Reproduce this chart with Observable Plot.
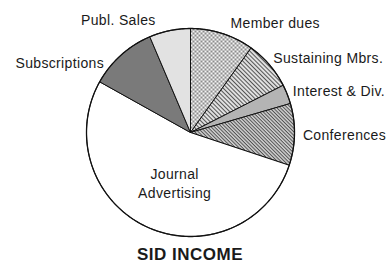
<!DOCTYPE html>
<html><head><meta charset="utf-8">
<script src="https://cdn.jsdelivr.net/npm/d3@7"></script>
<script src="https://cdn.jsdelivr.net/npm/@observablehq/plot@0.6"></script>
<style>
body{margin:0;background:#fff;}
#chart{width:390px;}
#title{width:380px;height:24px;line-height:24px;text-align:center;font:bold 17px "Liberation Sans",Arial,sans-serif;color:#1a1a1a;letter-spacing:0.5px;}
</style></head><body>
<svg width="0" height="0" style="position:absolute">
<defs>
<pattern id="checker" patternUnits="userSpaceOnUse" width="4" height="4">
 <rect width="4" height="4" fill="#f4f4f4"/>
 <rect width="2" height="2" fill="#8c8c8c"/>
 <rect x="2" y="2" width="2" height="2" fill="#8c8c8c"/>
</pattern>
<pattern id="hatchLight" patternUnits="userSpaceOnUse" width="3" height="3" patternTransform="rotate(45)">
 <rect width="3" height="3" fill="#e0e0e0"/>
 <line x1="0" y1="0.5" x2="3" y2="0.5" stroke="#555" stroke-width="1"/>
</pattern>
<pattern id="hatchDark" patternUnits="userSpaceOnUse" width="2.5" height="2.5" patternTransform="rotate(45)">
 <rect width="2.5" height="2.5" fill="#d2d2d2"/>
 <line x1="0" y1="0.5" x2="2.5" y2="0.5" stroke="#505050" stroke-width="1"/>
</pattern>
</defs>
</svg>
<div id="chart"></div>
<div id="title">SID INCOME</div>
<script>
// ---- data ----
const categories = ["Member dues", "Sustaining Mbrs.", "Interest & Div.", "Conferences", "Journal Advertising", "Subscriptions", "Publ. Sales"];
const shares = [9.9, 7.6, 3.0, 9.6, 53.0, 10.5, 6.4];
const labelTexts = ["Member dues", "Sustaining Mbrs.", "Interest & Div.", "Conferences", "Journal\nAdvertising", "Subscriptions", "Publ. Sales"];

// ---- styles / layout ----
const fills = ["url(#checker)", "url(#hatchLight)", "#b4b4b4", "url(#hatchDark)", "#ffffff", "#7a7a7a", "#e2e2e2"];
const labelRadius = [1.1, 1.1, 1.1, 1.1, 0.45, 1.1, 1.1];
const labelAnchor = ["start", "start", "start", "start", "middle", "end", "end"];
const labelNudge = [[5, -2], [-4, -1], [-4, 0], [-2, -1], [3, 7], [-10, 15], [-12, -1]];

const W = 390, H = 245, R = 104, cx = 190, cy = 132;

const arcs = d3.pie().sort(null).value(d => d)(shares);

function arcPoints(a0, a1) {
  const n = Math.max(2, Math.ceil((a1 - a0) / (Math.PI / 180)));
  const pts = [{x: 0, y: 0}];
  for (let i = 0; i <= n; i++) {
    const a = a0 + (a1 - a0) * i / n;
    pts.push({x: Math.sin(a), y: Math.cos(a)});
  }
  pts.push({x: 0, y: 0});
  return pts;
}

const sliceMarks = arcs.map((a, i) =>
  Plot.line(arcPoints(a.startAngle, a.endAngle), {x: "x", y: "y", fill: fills[i], stroke: "#111", strokeWidth: 1, strokeLinejoin: "round"})
);

const circle = d3.range(0, 361).map(d => ({x: Math.sin(d * Math.PI / 180), y: Math.cos(d * Math.PI / 180)}));

const labelMarks = arcs.map((a, i) => {
  const mid = (a.startAngle + a.endAngle) / 2;
  const r = labelRadius[i];
  return Plot.text([{x: r * Math.sin(mid), y: r * Math.cos(mid), t: labelTexts[i]}], {
    x: "x", y: "y", text: "t",
    textAnchor: labelAnchor[i], dx: labelNudge[i][0], dy: labelNudge[i][1],
    fontSize: 14, lineHeight: 1.35, fill: "#1a1a1a"
  });
});

const chart = Plot.plot({
  width: W, height: H,
  marginTop: 0, marginRight: 0, marginBottom: 0, marginLeft: 0,
  x: {domain: [-cx / R, (W - cx) / R], axis: null},
  y: {domain: [-(H - cy) / R, cy / R], axis: null},
  style: {fontFamily: "'Liberation Sans', Arial, sans-serif", letterSpacing: "0.35px", background: "#fff"},
  marks: [
    ...sliceMarks,
    Plot.line(circle, {x: "x", y: "y", stroke: "#111", strokeWidth: 1.3}),
    ...labelMarks
  ]
});
document.getElementById("chart").appendChild(chart);
</script>
</body></html>
